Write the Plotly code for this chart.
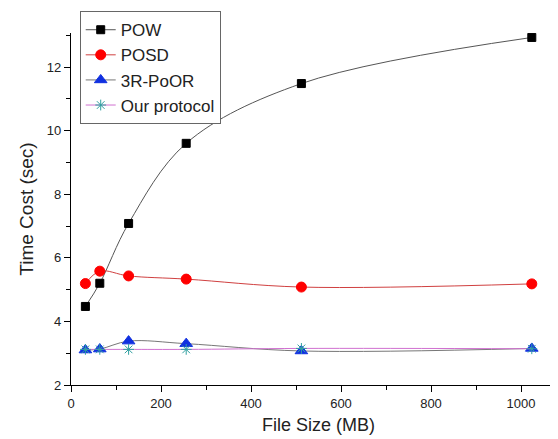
import plotly.graph_objects as go

file_size = [32, 64, 128, 256, 512, 1024]
pow_cost = [4.47, 5.2, 7.08, 9.6, 11.48, 12.93]
posd_cost = [5.19, 5.58, 5.43, 5.33, 5.08, 5.18]
poor_cost = [3.1, 3.13, 3.38, 3.3, 3.07, 3.15]
ours_cost = [3.12, 3.12, 3.12, 3.12, 3.15, 3.14]

fig = go.Figure()
series = [
    ("POW", pow_cost, "#555555", "#000000", "square", 8),
    ("POSD", posd_cost, "#d04040", "#ff0000", "circle", 10),
    ("3R-PoOR", poor_cost, "#777777", "#1030e0", "triangle-up", 11),
    ("Our protocol", ours_cost, "#d070d0", "#30a0a0", "asterisk-open", 9),
]
for name, ys, lc, mc, sym, ms in series:
    fig.add_trace(go.Scatter(
        x=file_size, y=ys, name=name, mode="lines+markers",
        line=dict(color=lc, width=1, shape="spline", smoothing=1),
        marker=dict(symbol=sym, color=mc, size=ms,
                    line=dict(color=mc, width=1)),
    ))

font_fam = "Arial, Liberation Sans"
axis_common = dict(
    showline=True, linecolor="black", linewidth=1.2, mirror=False,
    ticks="outside", ticklen=6, tickcolor="black", tickwidth=1,
    showgrid=False, zeroline=False, automargin=False,
    tickfont=dict(family=font_fam, size=13, color="#222"),
    minor=dict(ticks="outside", ticklen=4, tickcolor="black"),
)
fig.update_xaxes(range=[0, 1100], dtick=200,
                 title=dict(text="File Size (MB)", font=dict(family=font_fam, size=18, color="#222"), standoff=8),
                 **axis_common)
fig.update_yaxes(range=[2, 13.07], dtick=2,
                 title=dict(text="Time Cost (sec)", font=dict(family=font_fam, size=19, color="#222"), standoff=8),
                 **axis_common)
fig.update_xaxes(minor=dict(dtick=100))
fig.update_yaxes(minor=dict(dtick=1))

fig.update_layout(
    width=558, height=439,
    margin=dict(l=63, r=0, t=25, b=62),
    plot_bgcolor="white", paper_bgcolor="white",
    legend=dict(x=0.0176, y=1.062, xanchor="left", yanchor="top",
                bordercolor="#666", borderwidth=1, bgcolor="white",
                font=dict(family=font_fam, size=17, color="#222"),
                tracegroupgap=0, itemwidth=30),
)
fig.write_html("out.html")
